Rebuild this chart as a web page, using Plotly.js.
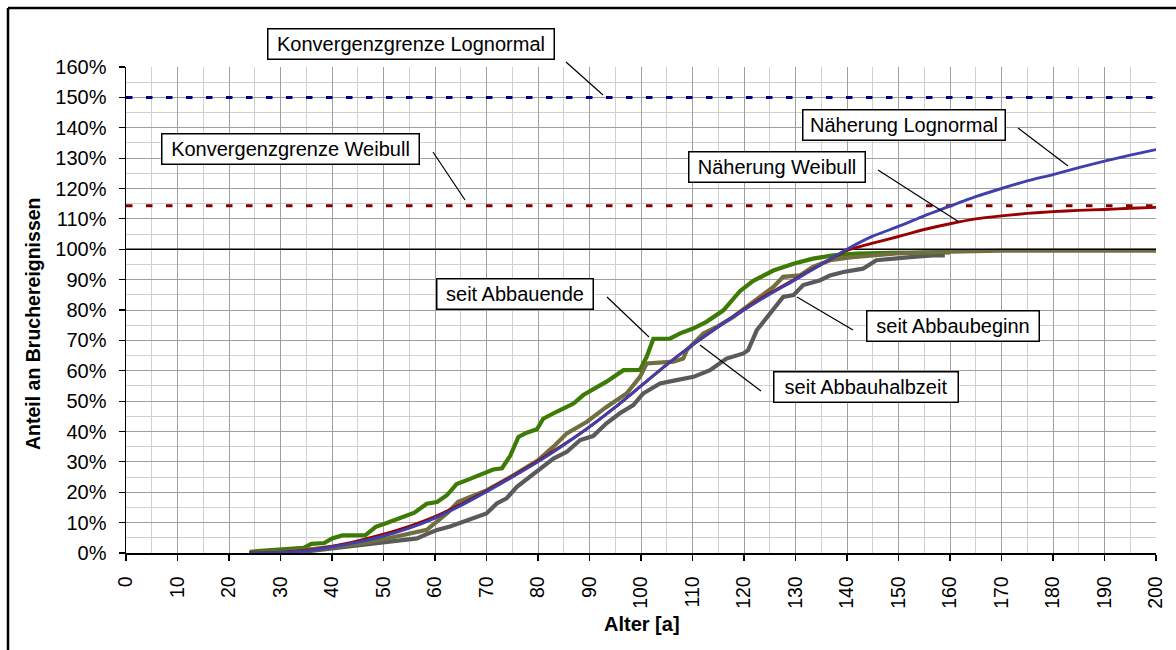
<!DOCTYPE html>
<html>
<head>
<meta charset="utf-8">
<script src="https://cdn.plot.ly/plotly-3.0.1.min.js"></script>
<style>
  html, body { margin: 0; padding: 0; background: #ffffff; }
  #chart { width: 1176px; height: 650px; }
</style>
</head>
<body>
<div id="chart"></div>
<script>
// ---------------- data ----------------
const xAxisTicks = [0, 10, 20, 30, 40, 50, 60, 70, 80, 90, 100, 110, 120, 130, 140, 150, 160, 170, 180, 190, 200];
const yAxisTicks = [0, 10, 20, 30, 40, 50, 60, 70, 80, 90, 100, 110, 120, 130, 140, 150, 160];

// fitted curves (Näherung)
const ageFit = [24, 30, 35, 40, 45, 50, 55, 60, 65, 70, 75, 80, 85, 90, 95, 100, 105, 110, 115, 120, 125, 130, 135, 140, 145, 150, 155, 160, 165, 170, 175, 180, 185, 190, 195, 200];
const lognormalFit = [0, 0.2, 0.7, 2, 3.6, 5.6, 8.2, 11.5, 15.6, 20.2, 25, 30, 35.5, 41.5, 48, 55, 62, 68.5, 74.5, 80, 85.2, 90, 95, 100, 104.3, 107.5, 111, 114.2, 117.3, 120, 122.5, 124.6, 126.9, 129, 131, 132.8];
const weibullFit = [0, 0.3, 0.9, 2.2, 4, 6.2, 8.8, 12, 16, 20.5, 25.3, 30.3, 35.7, 41.5, 48, 55, 62, 68.5, 74.5, 80.2, 85.5, 90.3, 95, 99.6, 102, 104.2, 106.5, 108.4, 110, 111, 111.8, 112.4, 112.8, 113.1, 113.5, 113.8];

// empirical: seit Abbauende
const ageEnd = [24, 30, 34.5, 36, 38.5, 40, 42, 46.5, 48.5, 50.5, 53, 56, 58.4, 60.4, 62.3, 64.2, 66.2, 68.8, 71.3, 73, 74.6, 76.2, 77.8, 79.8, 81, 83.6, 86.9, 88.8, 91, 93.3, 96.6, 99.8, 101.1, 102.4, 105.6, 107.6, 110.1, 112.7, 116, 117.5, 119.2, 121.8, 125.7, 129.6, 133.4, 137.3, 141.9, 148.3, 160];
const shareEnd = [0.4, 1.2, 1.7, 3, 3.3, 4.8, 5.8, 5.9, 8.6, 9.8, 11.5, 13.3, 16.2, 16.8, 19, 22.7, 24, 25.7, 27.5, 27.9, 32, 38.2, 39.6, 40.7, 44.2, 46.5, 49.2, 52, 54.2, 56.4, 60.2, 60.3, 64.6, 70.5, 70.6, 72.3, 73.9, 76.1, 79.9, 83, 86.2, 89.6, 93, 95.2, 96.9, 98, 98.6, 98.8, 99];

// empirical: seit Abbauhalbzeit
const ageHalf = [24, 30, 35, 40, 45, 49.4, 53, 56.5, 58.4, 60, 62.3, 64.5, 66.2, 68, 70, 75, 80, 83, 85.6, 89.5, 93.3, 97.2, 99.8, 101.1, 106.3, 108.2, 108.9, 112.1, 114.7, 117.9, 120.5, 123.1, 125.7, 127.6, 130.9, 133.4, 136.7, 140.6, 145.1, 149.6, 160, 170, 200];
const shareHalf = [0, 0.3, 1, 2, 3, 4.3, 5.5, 7, 7.6, 9.8, 13, 16.9, 18, 19.5, 20.6, 25.3, 30.5, 35, 39.4, 43.2, 48.1, 52.5, 58, 62.4, 63, 64, 66.8, 72.3, 74.4, 77.7, 81, 84.3, 87.6, 90.9, 91.4, 94.2, 96.4, 97.3, 98, 98.6, 99.2, 99.5, 99.5];

// empirical: seit Abbaubeginn
const ageBegin = [24, 30, 35, 40, 45, 49.4, 53, 56.5, 58.4, 60.4, 62.9, 65.5, 68.1, 70, 72, 73.9, 75.9, 78.5, 80.4, 83, 85.6, 88.2, 90.7, 93.3, 95.9, 98.5, 100.4, 103.7, 106.9, 110.2, 113.4, 116.6, 119.9, 120.8, 122.5, 125, 127.6, 129.6, 131.5, 134.8, 136.7, 139.3, 143.1, 145.7, 148.3, 152.8, 156.7, 159];
const shareBegin = [0, 0.2, 0.5, 1.5, 2.5, 3.5, 4, 4.8, 6.2, 7.6, 8.7, 10.3, 12, 13, 16.3, 18, 21.8, 25.1, 27.9, 31.1, 33.3, 37.2, 38.5, 42.7, 46, 48.7, 52.5, 55.8, 56.9, 58, 60.2, 64, 65.7, 66.8, 73.4, 78.8, 84.3, 84.9, 88.2, 89.8, 91.4, 92.5, 93.6, 96.4, 96.9, 97.5, 98, 98];

// reference levels
const ageSpan = [0, 200];
const limitLognormal = 150;
const limitWeibull = 114.3;
const fullShare = 100;

// labels
const labelLimitLog = 'Konvergenzgrenze Lognormal';
const labelLimitWei = 'Konvergenzgrenze Weibull';
const labelFitLog = 'Näherung Lognormal';
const labelFitWei = 'Näherung Weibull';
const labelEnd = 'seit Abbauende';
const labelHalf = 'seit Abbauhalbzeit';
const labelBegin = 'seit Abbaubeginn';
const xTitle = 'Alter [a]';
const yTitle = 'Anteil an Bruchereignissen';

// ---------------- layout helpers (pixel -> paper) ----------------
const W = 1176, H = 650;
const M = { l: 126, r: 20, t: 67, b: 97 };
const PW = W - M.l - M.r, PH = H - M.t - M.b;
const px = v => (v - M.l) / PW;
const py = v => (H - M.b - v) / PH;
const FONT = 'Liberation Sans, Arial, sans-serif';

const flat = (level) => ageSpan.map(() => level);

const traces = [
  { x: ageSpan, y: flat(limitLognormal), mode: 'lines', name: labelLimitLog,
    line: { color: '#000080', width: 3, dash: '6.5px,13.5px' } },
  { x: ageSpan, y: flat(limitWeibull), mode: 'lines', name: labelLimitWei,
    line: { color: '#800000', width: 3, dash: '6.5px,13.5px' } },
  { x: ageBegin, y: shareBegin, mode: 'lines', name: labelBegin,
    line: { color: '#5a5a5a', width: 4.2 } },
  { x: ageEnd, y: shareEnd, mode: 'lines', name: labelEnd,
    line: { color: '#3e7a06', width: 4.2 } },
  { x: ageHalf, y: shareHalf, mode: 'lines', name: labelHalf,
    line: { color: '#716f40', width: 4.2 } },
  { x: ageSpan, y: flat(fullShare), mode: 'lines', name: '100%',
    line: { color: '#000000', width: 1.3 } },
  { x: ageFit, y: weibullFit, mode: 'lines', name: labelFitWei,
    line: { color: '#990000', width: 2.9, shape: 'spline', smoothing: 0.6 } },
  { x: ageFit, y: lognormalFit, mode: 'lines', name: labelFitLog,
    line: { color: '#3f3fae', width: 2.9, shape: 'spline', smoothing: 0.6 } }
];

// boxed labels: [text, left, top, right, bottom] in pixels
const boxes = [
  [labelLimitLog, 267, 28, 555, 60],
  [labelLimitWei, 161, 133, 420, 165],
  [labelFitLog, 802, 109, 1006, 141],
  [labelFitWei, 688, 151, 866, 183],
  [labelEnd, 436, 278, 594, 310],
  [labelHalf, 773, 371, 959, 403],
  [labelBegin, 866, 310, 1040, 342]
];
const BW = 1.5, PAD = 2;
const annotations = boxes.map(b => ({
  text: b[0], xref: 'paper', yref: 'paper', x: px(b[1]), y: py(b[2]),
  xanchor: 'left', yanchor: 'top', showarrow: false,
  width: (b[3] - b[1]) - 2 * (BW + PAD), height: (b[4] - b[2]) - 2 * (BW + PAD),
  align: 'center', valign: 'middle',
  bgcolor: '#ffffff', bordercolor: '#000000', borderwidth: BW, borderpad: PAD,
  font: { family: FONT, size: 20, color: '#000000' }
}));
annotations.push({
  text: '<b>' + xTitle + '</b>', xref: 'paper', yref: 'paper',
  x: px(642), y: py(624), xanchor: 'center', yanchor: 'middle', showarrow: false,
  font: { family: FONT, size: 20, color: '#000000' }
});
annotations.push({
  text: '<b>' + yTitle + '</b>', xref: 'paper', yref: 'paper', textangle: -90,
  x: px(33), y: py(324), xanchor: 'center', yanchor: 'middle', showarrow: false,
  font: { family: FONT, size: 19.5, color: '#000000' }
});

// leader lines [x0, y0, x1, y1] in pixels
const leaders = [
  [566, 62, 603, 95],
  [433, 152, 465, 200],
  [1018, 128, 1068, 166],
  [878, 170, 959, 222],
  [607, 297, 649, 337],
  [700, 345, 761, 391],
  [797, 297, 853, 330]
];
const shapes = leaders.map(l => ({
  type: 'line', xref: 'paper', yref: 'paper',
  x0: px(l[0]), y0: py(l[1]), x1: px(l[2]), y1: py(l[3]),
  line: { color: '#000000', width: 1.2 }
}));
// outer chart frame (left and top visible)
shapes.push({ type: 'line', xref: 'paper', yref: 'paper', x0: px(8), y0: py(8), x1: px(1180), y1: py(8), line: { color: '#000000', width: 2.5 } });
shapes.push({ type: 'line', xref: 'paper', yref: 'paper', x0: px(8), y0: py(8), x1: px(8), y1: py(660), line: { color: '#000000', width: 2.5 } });

const axisCommon = {
  showline: true, linecolor: '#000000', linewidth: 1.5,
  ticks: 'outside', ticklen: 6, tickwidth: 1.2, tickcolor: '#000000',
  showgrid: true, gridcolor: '#9f9f9f', gridwidth: 1,
  zeroline: false, fixedrange: true, ticklabelstandoff: 8,
  minor: { dtick: 5, showgrid: true, gridcolor: '#d0d0d0', gridwidth: 1, ticks: '' }
};

const layout = Object.assign({
  width: W, height: H,
  margin: M,
  paper_bgcolor: '#ffffff', plot_bgcolor: '#ffffff',
  showlegend: false,
  font: { family: FONT, color: '#000000' },
  xaxis: Object.assign({}, axisCommon, {
    range: [xAxisTicks[0], xAxisTicks[xAxisTicks.length - 1]],
    tickmode: 'array', tickvals: xAxisTicks, ticktext: xAxisTicks.map(String),
    tickangle: -90, tickfont: { family: FONT, size: 19.5, color: '#000000' }
  }),
  yaxis: Object.assign({}, axisCommon, {
    range: [yAxisTicks[0], yAxisTicks[yAxisTicks.length - 1]],
    tickmode: 'array', tickvals: yAxisTicks, ticktext: yAxisTicks.map(v => v + '%'),
    tickfont: { family: FONT, size: 20, color: '#000000' }
  }),
  annotations: annotations,
  shapes: shapes
});

Plotly.newPlot('chart', traces, layout, { staticPlot: true, displayModeBar: false });
</script>
</body>
</html>
